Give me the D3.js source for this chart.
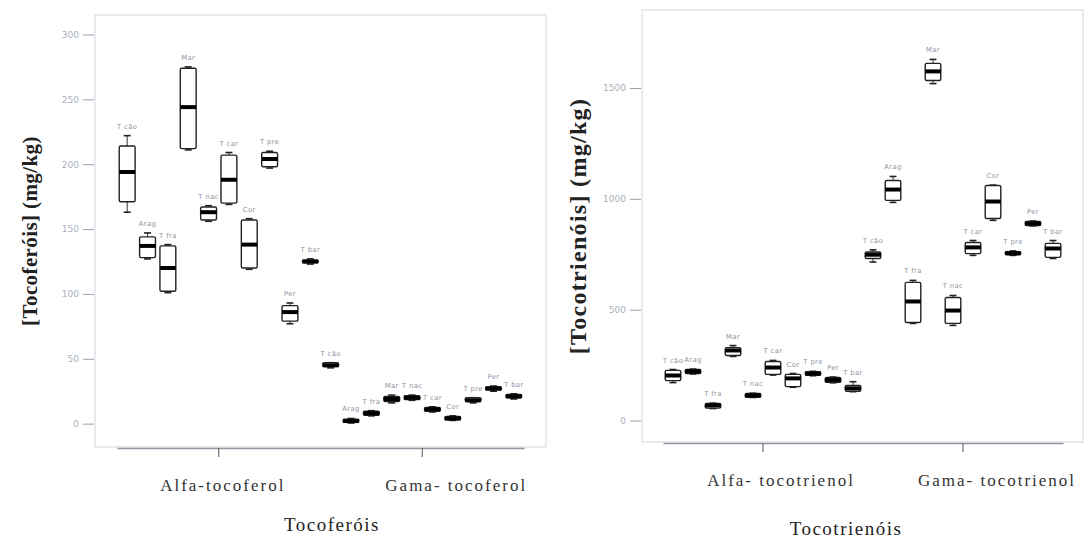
<!DOCTYPE html>
<html>
<head>
<meta charset="utf-8">
<script src="https://cdn.jsdelivr.net/npm/d3@7"></script>
<style>
  body { margin: 0; background: #fff; }
  .axis text { font-family: "Liberation Serif", serif; }
</style>
</head>
<body>
<script>
// cultivar labels, same order in every group
const cultivars = ['T cão', 'Arag', 'T fra', 'Mar', 'T nac', 'T car', 'Cor', 'T pre', 'Per', 'T bar'];

const tocoferolGroups = ['Alfa-tocoferol', 'Gama- tocoferol'];
const tocotrienolGroups = ['Alfa- tocotrienol', 'Gama- tocotrienol'];

const tocoferolTicks = [0, 50, 100, 150, 200, 250, 300];
const tocotrienolTicks = [0, 500, 1000, 1500];

// [whisker low, q1, median, q3, whisker high] in mg/kg
const alfaTocoferol = [
    [163, 171, 194, 214, 222],
    [127, 128, 137, 144, 147],
    [101, 102, 120, 137, 138],
    [211, 212, 244, 274, 275],
    [156, 157, 163, 167, 168],
    [169, 170, 188, 207, 209],
    [119, 120, 138, 157, 158],
    [197, 198, 204, 209, 210],
    [77, 79, 86, 91, 93],
    [123, 124, 125, 126, 127]
];
const gamaTocoferol = [
    [43, 44, 45, 47, 47],
    [0.5, 1, 2, 3.5, 4],
    [6, 6.5, 8, 9.5, 10],
    [16, 17, 19, 21, 22],
    [18, 18.5, 20, 21.5, 22],
    [9, 9.5, 11, 12.5, 13],
    [2.5, 3, 4, 5.5, 6],
    [16, 17, 18, 20, 20],
    [25, 26, 27, 28.5, 29],
    [19, 20, 21, 22.5, 23]
];
const alfaTocotrienol = [
    [171, 180, 203, 226, 230],
    [210, 212, 221, 230, 232],
    [54, 56, 68, 77, 78],
    [289, 293, 316, 329, 338],
    [104, 105, 113, 122, 123],
    [205, 208, 239, 266, 271],
    [150, 153, 190, 208, 212],
    [202, 204, 212, 220, 222],
    [170, 172, 183, 194, 196],
    [130, 132, 145, 158, 175]
];
const gamaTocotrienol = [
    [715, 731, 748, 760, 770],
    [984, 993, 1042, 1083, 1101],
    [438, 442, 537, 623, 632],
    [1520, 1534, 1575, 1611, 1629],
    [429, 438, 496, 555, 564],
    [745, 753, 781, 803, 812],
    [903, 911, 988, 1060, 1062],
    [745, 748, 755, 762, 765],
    [878, 880, 889, 898, 900],
    [731, 736, 776, 799, 812]
];

const svg = d3.select('body').append('svg')
    .attr('width', 1084)
    .attr('height', 541);

const panels = [
    {
        frame: {x0: 95, x1: 546, y0: 15, y1: 447},
        band: [117, 524],
        yDomain: [-18, 315],
        yTicks: tocoferolTicks,
        groups: tocoferolGroups,
        series: [alfaTocoferol, gamaTocoferol],
        labelShift: [4, 34],
        yTitle: '[Tocoferóis] (mg/kg)',
        yTitleX: 30, yTitleSize: 21, yTitleSpacing: 0.4,
        xTitle: 'Tocoferóis',
        xTitleX: 332, xTitleY: 531
    },
    {
        frame: {x0: 642, x1: 1083, y0: 10, y1: 442},
        band: [663, 1063],
        yDomain: [-97, 1852],
        yTicks: tocotrienolTicks,
        groups: tocotrienolGroups,
        series: [alfaTocotrienol, gamaTocotrienol],
        labelShift: [18, 34],
        yTitle: '[Tocotrienóis] (mg/kg)',
        yTitleX: 578, yTitleSize: 24, yTitleSpacing: 1.3,
        xTitle: 'Tocotrienóis',
        xTitleX: 846, xTitleY: 535
    }
];

panels.forEach(drawPanel);

function drawPanel(p) {
    const f = p.frame;
    const g = svg.append('g');

    const y = d3.scaleLinear().domain(p.yDomain).range([f.y1, f.y0]);
    const outer = d3.scaleBand().domain(p.groups).range(p.band);
    const inner = d3.scaleBand().domain(cultivars).range([0, outer.bandwidth()]);
    const boxW = inner.bandwidth() * 0.78;

    // plot frame
    g.append('rect')
        .attr('x', f.x0).attr('y', f.y0)
        .attr('width', f.x1 - f.x0).attr('height', f.y1 - f.y0)
        .attr('fill', 'none')
        .attr('stroke', '#d9dde6')
        .attr('stroke-width', 1.2);

    // Y axis
    const yAxis = g.append('g')
        .attr('class', 'axis')
        .attr('transform', `translate(${f.x0 - 1},0)`)
        .call(d3.axisLeft(y).tickValues(p.yTicks).tickFormat(d3.format('d'))
            .tickSize(11).tickPadding(4));
    yAxis.select('.domain').remove();
    yAxis.selectAll('line').attr('stroke', '#9aa1ad');
    yAxis.selectAll('text')
        .style('font-family', '"DejaVu Sans", sans-serif')
        .style('font-size', '9px')
        .attr('fill', '#a9b0bd');

    // X axis
    const xAxis = g.append('g')
        .attr('class', 'axis')
        .attr('transform', `translate(0,${f.y1 + 1})`)
        .call(d3.axisBottom(outer).tickSize(9).tickSizeOuter(0).tickPadding(22));
    xAxis.select('.domain').attr('stroke', '#9097a3').attr('stroke-width', 1.3);
    xAxis.selectAll('line').attr('stroke', '#555');
    xAxis.selectAll('text')
        .style('font-size', '17px')
        .style('letter-spacing', '2px')
        .attr('fill', '#333')
        .attr('dx', (d, i) => p.labelShift[i]);

    // boxes
    p.groups.forEach((grp, gi) => {
        const stats = p.series[gi];
        const box = g.append('g').selectAll('g')
            .data(cultivars.map((c, i) => ({name: c, s: stats[i]})))
            .join('g')
            .attr('transform', d => `translate(${outer(grp) + inner(d.name) + inner.bandwidth() / 2},0)`);

        box.append('line')
            .attr('y1', d => y(d.s[0])).attr('y2', d => y(d.s[4]))
            .attr('stroke', '#333').attr('stroke-width', 1);
        box.selectAll('.cap')
            .data(d => [d.s[0], d.s[4]])
            .join('line')
            .attr('class', 'cap')
            .attr('x1', -boxW * 0.22).attr('x2', boxW * 0.22)
            .attr('y1', v => y(v)).attr('y2', v => y(v))
            .attr('stroke', '#222').attr('stroke-width', 1.6);
        box.append('rect')
            .attr('x', -boxW / 2)
            .attr('y', d => y(d.s[3]))
            .attr('width', boxW)
            .attr('height', d => Math.max(1, y(d.s[1]) - y(d.s[3])))
            .attr('rx', 1.5)
            .attr('fill', '#fff')
            .attr('stroke', '#222')
            .attr('stroke-width', 1.4);
        box.append('line')
            .attr('x1', -boxW / 2).attr('x2', boxW / 2)
            .attr('y1', d => y(d.s[2])).attr('y2', d => y(d.s[2]))
            .attr('stroke', '#000').attr('stroke-width', 4);
        box.append('text')
            .attr('y', d => y(d.s[4]) - 7)
            .attr('text-anchor', 'middle')
            .style('font-family', '"DejaVu Sans", sans-serif')
            .style('font-size', '6.8px')
            .style('letter-spacing', '0.4px')
            .attr('fill', '#8d939e')
            .text(d => d.name);
    });

    // titles
    g.append('text')
        .attr('transform', `translate(${p.yTitleX},${(f.y0 + f.y1) / 2}) rotate(-90)`)
        .attr('text-anchor', 'middle')
        .attr('dy', '0.35em')
        .style('font-family', '"Liberation Serif", serif')
        .style('font-weight', 'bold')
        .style('font-size', p.yTitleSize + 'px')
        .style('letter-spacing', p.yTitleSpacing + 'px')
        .attr('fill', '#222')
        .text(p.yTitle);

    g.append('text')
        .attr('x', p.xTitleX).attr('y', p.xTitleY)
        .attr('text-anchor', 'middle')
        .style('font-family', '"Liberation Serif", serif')
        .style('font-size', '19px')
        .style('letter-spacing', '1.5px')
        .attr('fill', '#222')
        .text(p.xTitle);
}
</script>
</body>
</html>
